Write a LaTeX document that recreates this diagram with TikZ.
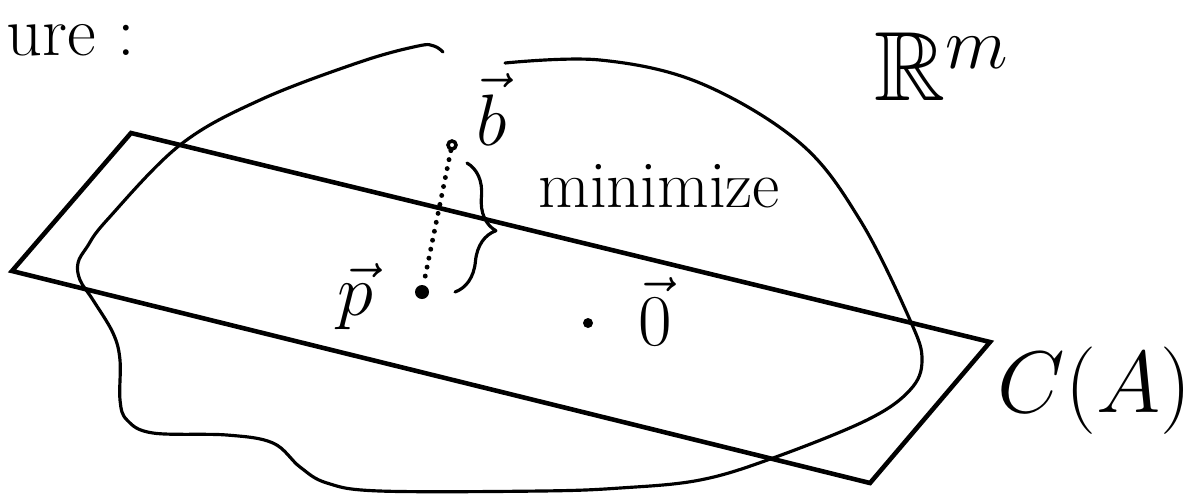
\documentclass[tikz,border=0pt]{standalone}
\usepackage{amssymb}
\usetikzlibrary{decorations.pathreplacing}
\tikzset{
  pt/.style={circle, fill, inner sep=0pt},
  vlab/.style={anchor=base, font=\fontsize{20}{24}\selectfont},
  hand/.style={line width=0.9pt, line cap=round, line join=round}
}
\begin{document}
\begin{tikzpicture}[x=0.01cm,y=-0.01cm]
\useasboundingbox (0,0) rectangle (1201,493);

\node[anchor=base west, font=\fontsize{20}{24}\selectfont] (ure) at (-6,55) {ure :};

\draw[line width=1.3pt, line join=miter] (131,133) -- (990,342) -- (870,483) -- (12,271) -- cycle;

\draw[hand] plot[smooth, tension=0.6] coordinates {(505,63) (600,60) (700,83) (800,143) (860,220) (910,320) (922,360) (910,390) (867,420) (773,458) (700,480) (620,488) (540,491) (380,491) (327,483) (300,467) (273,443) (227,435) (153,433) (127,420) (120,400) (120,360) (113,333) (93,300) (80,280) (78,263) (87,247) (107,220) (180,145) (260,100) (360,62) (418,46) (434,46) (443,52)};

\node[pt, fill=white, draw, line width=1pt, minimum size=0.8mm] (b) at (452,145) {};
\node[pt, minimum size=1.4mm] (p) at (422,292) {};
\node[pt, minimum size=1mm] (o) at (588,323) {};

\node[vlab] (bl) at (492,145) {$\vec{b}$};
\node[vlab] (pl) at (355,315) {$\vec{p}$};
\node[vlab] (ol) at (655,345) {$\vec{0}$};

\draw[line width=1.4pt, line cap=round, dash pattern=on 0pt off 2.6pt] (b) -- (p);

\coordinate (bt) at (467,163);
\coordinate (bb) at (455,292);
\draw[hand, decorate, decoration={brace, amplitude=3.5mm}] (bt) -- (bb);

\node[anchor=base west, font=\fontsize{19}{23}\selectfont] (min) at (526,207) {minimize};
\node[anchor=base west, font=\fontsize{28}{32}\selectfont] (rm) at (862,100) {$\mathbb{R}^m$};
\node[anchor=base west, font=\fontsize{26}{30}\selectfont] (ca) at (985,412) {$C(A)$};
\end{tikzpicture}
\end{document}
